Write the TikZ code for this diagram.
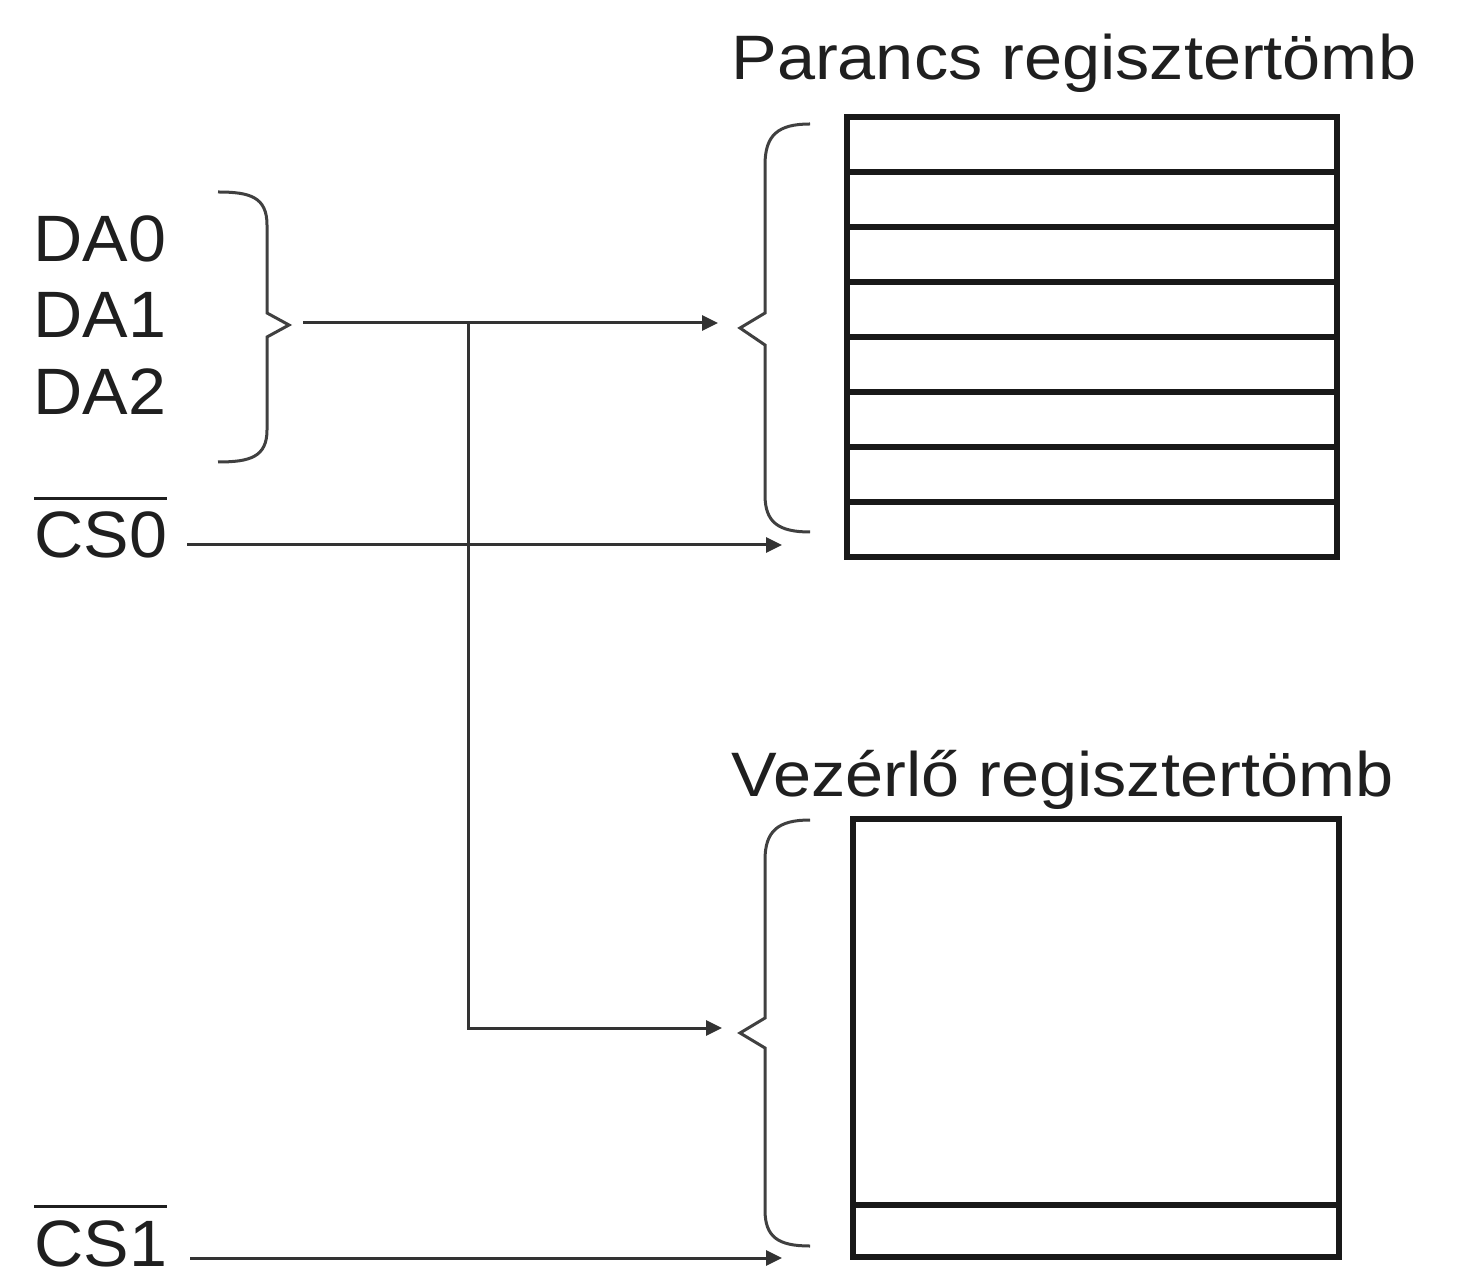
\documentclass[tikz,border=0pt]{standalone}
\usepackage{fontspec}
\setmainfont{Liberation Sans}
\usetikzlibrary{arrows.meta}
\newcommand\ovbar[1]{\vbox{\hrule height 1.5pt\kern 6pt\hbox{#1}}}
\begin{document}
\begin{tikzpicture}[x=0.5pt,y=-0.5pt,
  lbl/.style={inner sep=0pt, anchor=base west, text=black!88, font=\fontsize{32.8}{38}\selectfont},
  ttl/.style={inner sep=0pt, anchor=base west, text=black!88, font=\fontsize{31.4}{38}\selectfont},
  wire/.style={line width=1.5pt, draw=black!80},
  arr/.style={wire, -{Triangle[length=8pt,width=7.5pt]}},
  brc/.style={line width=1.5pt, draw=black!75, line join=miter},
  reg/.style={line width=2.8pt, draw=black!90},
]
\useasboundingbox (0,0) rectangle (1461,1277);

% labels
\node[lbl] (da0) at (33,262) {\scalebox{1.04}[1]{DA0}};
\node[lbl] (da1) at (33,338) {\scalebox{1.04}[1]{DA1}};
\node[lbl] (da2) at (33,415) {\scalebox{1.04}[1]{DA2}};
\node[lbl] (cs0) at (34,558) {\scalebox{1.04}[1]{\ovbar{CS0}}};
\node[lbl] (cs1) at (34,1266) {\scalebox{1.04}[1]{\ovbar{CS1}}};
\node[ttl] (t1) at (731,80) {\scalebox{1.09}[1]{Parancs regisztertömb}};
\node[ttl] (t2) at (731,796) {\scalebox{1.09}[1]{Vezérlő regisztertömb}};

% register blocks
\draw[reg] (847,117) rectangle (1337,557);
\foreach \y in {172,227,282,337,392,447,502}
  \draw[reg] (847,\y) -- (1337,\y);
\draw[reg] (853,819) rectangle (1339,1257);
\draw[reg] (853,1205) -- (1339,1205);

% braces
\draw[brc] (218,192) .. controls (250,192) and (267,197) .. (267,225)
  -- (267,313) -- (289,325) -- (267,337) -- (267,430)
  .. controls (267,457) and (250,462) .. (218,462);
\draw[brc] (810,124) .. controls (778,124) and (765,135) .. (765,165)
  -- (765,313) -- (740,328) -- (765,345) -- (765,495)
  .. controls (765,522) and (778,532) .. (810,532);
\draw[brc] (810,820) .. controls (778,820) and (765,831) .. (765,860)
  -- (765,1018) -- (740,1033) -- (765,1048) -- (765,1210)
  .. controls (765,1237) and (778,1246) .. (810,1246);

% connection points
\coordinate (dain) at (303,323);
\coordinate (split) at (468,323);
\coordinate (bend) at (468,1028);
\coordinate (pin1) at (718,323);
\coordinate (pin2) at (722,1028);
\coordinate (cs0s) at (187,545);
\coordinate (cs0e) at (782,545);
\coordinate (cs1s) at (190,1258);
\coordinate (cs1e) at (782,1258);

% connectors
\draw[arr] (dain) -- (pin1);
\draw[arr] (split) -- (bend) -- (pin2);
\draw[arr] (cs0s) -- (cs0e);
\draw[arr] (cs1s) -- (cs1e);
\end{tikzpicture}
\end{document}
